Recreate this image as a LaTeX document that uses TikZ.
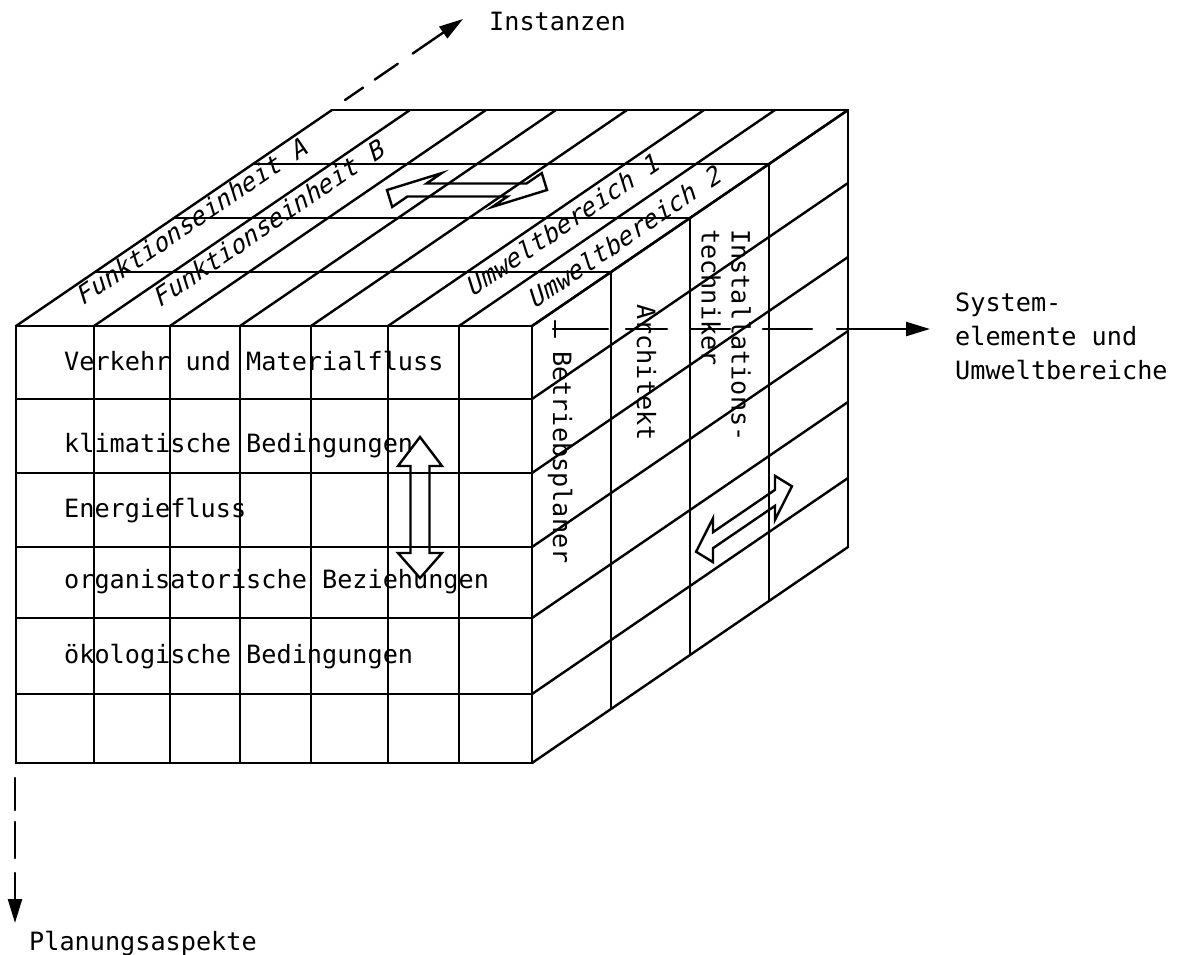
\documentclass[tikz,border=0pt]{standalone}
\usepackage{fontspec}
\newfontfamily\plotfont{DejaVu Sans Mono}
\newfontfamily\plotslfont{DejaVu Sans Mono}[FakeSlant=0.3]
\usetikzlibrary{arrows.meta,calc}
\begin{document}
\begin{tikzpicture}[x=0.5pt,y=-0.5pt, line width=1.2pt, line join=round, line cap=round,
  lbl/.style={font=\plotfont\fontsize{12.6}{15}\selectfont, inner sep=0pt},
  lblsl/.style={font=\plotslfont\fontsize{12.6}{15}\selectfont, inner sep=0pt, rotate=34.3, anchor=base west},
  lblv/.style={lbl, rotate=-90, anchor=base west},
  tipped/.style={-{Triangle[length=12pt,width=7pt]}},
  blockarrow/.style={line width=1.2pt, line join=miter}]
\useasboundingbox (0,0) rectangle (1179,954);
% front face
\foreach \x in {16,94,170,240,311,388,459,532} \draw (\x,326) -- (\x,763);
\foreach \y in {326,399,473,547,618,694,763} \draw (16,\y) -- (532,\y);
% top face
\foreach \x in {16,94,170,240,311,388,459,532} \draw (\x,326) -- ++(316,-216);
\foreach \k in {1,2,3,4} \draw (16+79*\k,326-54*\k) -- (532+79*\k,326-54*\k);
% right face
\foreach \y in {326,399,473,547,618,694,763} \draw (532,\y) -- ++(316,-216);
\foreach \k in {1,2,3,4} \draw (532+79*\k,326-54*\k) -- (532+79*\k,763-54*\k);

% axes
\coordinate (instA) at (345,100);
\coordinate (instB) at (397.8,63.8);
\coordinate (instC) at (412.6,53.6);
\coordinate (instT) at (463,19);
\draw[dash pattern=on 11pt off 7pt on 14pt off 40pt] (instA) -- (instB);
\draw[tipped] (instC) -- (instT);
\node[lbl, anchor=base west] (inst) at (488,30) {Instanzen};

\coordinate (sysA) at (553,329);
\coordinate (sysB) at (812,329);
\coordinate (sysC) at (837,329);
\coordinate (sysT) at (930,329);
\draw (555,321) -- (555,337);
\draw[dash pattern=on 27.5pt off 9pt on 20.5pt off 11.5pt on 20pt off 16.5pt on 24.5pt off 40pt] (sysA) -- (sysB);
\draw[tipped] (sysC) -- (sysT);
\node[lbl, anchor=north west, align=left, font=\plotfont\fontsize{12.6}{17}\selectfont] (sys) at (954,292) {System-\\elemente und\\Umweltbereiche};

\coordinate (plA) at (15,778);
\coordinate (plB) at (15,858);
\coordinate (plC) at (15,873);
\coordinate (plT) at (15,923);
\draw[dash pattern=on 16pt off 6pt on 18pt off 40pt] (plA) -- (plB);
\draw[tipped] (plC) -- (plT);
\node[lbl, anchor=base west] (plan) at (28,950) {Planungsaspekte};

% front labels
\node[lbl, anchor=base west] (r1) at (63,370) {Verkehr und Materialfluss};
\node[lbl, anchor=base west] (r2) at (63,452) {klimatische Bedingungen};
\node[lbl, anchor=base west] (r3) at (63,517) {Energiefluss};
\node[lbl, anchor=base west] (r4) at (63,588) {organisatorische Beziehungen};
\node[lbl, anchor=base west] (r5) at (63,663) {ökologische Bedingungen};

% top labels
\node[lblsl] (fa) at (82,307) {Funktionseinheit A};
\node[lblsl] (fb) at (159,309) {Funktionseinheit B};
\node[lblsl] (u1) at (472,298) {Umweltbereich 1};
\node[lblsl] (u2) at (534,310) {Umweltbereich 2};

% right labels
\node[lblv] (bp) at (553,350) {Betriebsplaner};
\node[lblv] (ar) at (637,303) {Architekt};
\node[lbl, rotate=-90, anchor=north west, align=left] (it) at (752,228) {Installations-\\techniker};

% block arrows
\begin{scope}[shift={(467,190)}, x={(0.5pt,0pt)}, y={(0.413pt,0.282pt)}]
\draw[blockarrow] (-80,0) -- (-50,30) -- (-50,11.5) -- (50,11.5) -- (50,30) -- (80,0)
  -- (50,-30) -- (50,-11.5) -- (-50,-11.5) -- (-50,-30) -- cycle;
\end{scope}
\begin{scope}[shift={(744,519)}, x={(0.413pt,0.282pt)}, y={(0pt,0.5pt)}]
\draw[blockarrow] (-58,0) -- (-37.5,22) -- (-37.5,8) -- (37.5,8) -- (37.5,22) -- (58,0)
  -- (37.5,-22) -- (37.5,-8) -- (-37.5,-8) -- (-37.5,-22) -- cycle;
\end{scope}
\draw[blockarrow] (420,437) -- (442,466) -- (429.5,466) -- (429.5,553) -- (442,553) -- (420,578)
  -- (398,553) -- (410.5,553) -- (410.5,466) -- (398,466) -- cycle;
\end{tikzpicture}
\end{document}
